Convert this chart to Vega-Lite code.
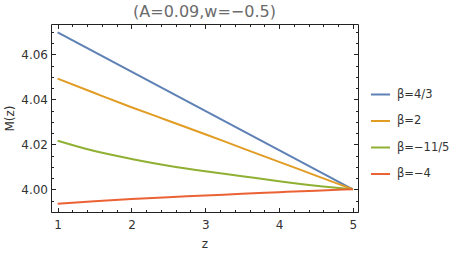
{
  "$schema": "https://vega.github.io/schema/vega-lite/v6.json",
  "width": 307,
  "height": 188,
  "autosize": "none",
  "padding": {"left": 51, "top": 24, "right": 93, "bottom": 42},
  "background": "white",
  "config": {
    "view": {"stroke": "#222", "strokeWidth": 1},
    "font": "DejaVu Sans",
    "axis": {"grid": false, "domain": false, "labelFont": "DejaVu Sans", "titleFont": "DejaVu Sans", "labelColor": "#333", "titleColor": "#333", "tickColor": "#222", "labelFontSize": 12, "titleFontSize": 12, "titleFontWeight": "normal"}
  },
  "title": {"text": "(A=0.09,w=−0.5)", "fontSize": 16, "fontWeight": "normal", "color": "#6b6b6b", "font": "DejaVu Sans", "anchor": "middle", "offset": 4},
  "data": {
    "values": [
      {"z": 1, "M": 4.0698, "beta": "β=4/3"},
      {"z": 5, "M": 4.0, "beta": "β=4/3"},
      {"z": 1, "M": 4.0492, "beta": "β=2"},
      {"z": 1.5, "M": 4.0428, "beta": "β=2"},
      {"z": 2, "M": 4.0365, "beta": "β=2"},
      {"z": 2.5, "M": 4.0305, "beta": "β=2"},
      {"z": 3, "M": 4.0245, "beta": "β=2"},
      {"z": 3.5, "M": 4.0183, "beta": "β=2"},
      {"z": 4, "M": 4.0122, "beta": "β=2"},
      {"z": 4.5, "M": 4.0061, "beta": "β=2"},
      {"z": 5, "M": 4.0, "beta": "β=2"},
      {"z": 1, "M": 4.0216, "beta": "β=−11/5"},
      {"z": 1.5, "M": 4.0170, "beta": "β=−11/5"},
      {"z": 2, "M": 4.0135, "beta": "β=−11/5"},
      {"z": 2.5, "M": 4.0105, "beta": "β=−11/5"},
      {"z": 3, "M": 4.0080, "beta": "β=−11/5"},
      {"z": 3.5, "M": 4.0058, "beta": "β=−11/5"},
      {"z": 4, "M": 4.0036, "beta": "β=−11/5"},
      {"z": 4.5, "M": 4.0016, "beta": "β=−11/5"},
      {"z": 5, "M": 4.0, "beta": "β=−11/5"},
      {"z": 1, "M": 3.9936, "beta": "β=−4"},
      {"z": 1.5, "M": 3.9947, "beta": "β=−4"},
      {"z": 2, "M": 3.9957, "beta": "β=−4"},
      {"z": 2.5, "M": 3.9965, "beta": "β=−4"},
      {"z": 3, "M": 3.9972, "beta": "β=−4"},
      {"z": 3.5, "M": 3.9980, "beta": "β=−4"},
      {"z": 4, "M": 3.9987, "beta": "β=−4"},
      {"z": 4.5, "M": 3.9994, "beta": "β=−4"},
      {"z": 5, "M": 4.0, "beta": "β=−4"}
    ]
  },
  "layer": [
    {
      "mark": {"type": "point", "opacity": 0},
      "encoding": {
        "x": {"field": "z", "type": "quantitative", "scale": {"domain": [0.91, 5.07], "nice": false, "zero": false},
          "axis": {"orient": "top", "values": [1,1.2,1.4,1.6,1.8,2,2.2,2.4,2.6,2.8,3,3.2,3.4,3.6,3.8,4,4.2,4.4,4.6,4.8,5], "tickSize": -2.5, "labels": false, "title": null}},
        "y": {"field": "M", "type": "quantitative", "scale": {"domain": [3.9899, 4.0735], "nice": false, "zero": false},
          "axis": {"orient": "right", "values": [3.99,3.995,4.0,4.005,4.01,4.015,4.02,4.025,4.03,4.035,4.04,4.045,4.05,4.055,4.06,4.065,4.07], "tickSize": -2.5, "labels": false, "title": null}}
      }
    },
    {
      "mark": {"type": "point", "opacity": 0},
      "encoding": {
        "x": {"field": "z", "type": "quantitative",
          "axis": {"orient": "top", "values": [1,2,3,4,5], "tickSize": -4.5, "labels": false, "title": null}},
        "y": {"field": "M", "type": "quantitative",
          "axis": {"orient": "right", "values": [4.0,4.02,4.04,4.06], "tickSize": -4.5, "labels": false, "title": null}}
      }
    },
    {
      "mark": {"type": "point", "opacity": 0},
      "encoding": {
        "x": {"field": "z", "type": "quantitative",
          "axis": {"orient": "bottom", "values": [1,1.2,1.4,1.6,1.8,2,2.2,2.4,2.6,2.8,3,3.2,3.4,3.6,3.8,4,4.2,4.4,4.6,4.8,5], "tickSize": -2.5, "labels": false, "title": null}},
        "y": {"field": "M", "type": "quantitative",
          "axis": {"orient": "left", "values": [3.99,3.995,4.0,4.005,4.01,4.015,4.02,4.025,4.03,4.035,4.04,4.045,4.05,4.055,4.06,4.065,4.07], "tickSize": -2.5, "labels": false, "title": null}}
      }
    },
    {
      "mark": {"type": "line", "strokeWidth": 2, "interpolate": "monotone"},
      "encoding": {
        "x": {"field": "z", "type": "quantitative",
          "axis": {"orient": "bottom", "values": [1,2,3,4,5], "tickSize": -4.5, "labelPadding": 12, "title": "z", "titlePadding": 8}},
        "y": {"field": "M", "type": "quantitative",
          "axis": {"orient": "left", "values": [4.0,4.02,4.04,4.06], "format": ".2f", "tickSize": -4.5, "labelPadding": 8, "title": "M(z)", "titlePadding": 4}},
        "color": {"field": "beta", "type": "nominal", "sort": ["β=4/3", "β=2", "β=−11/5", "β=−4"],
          "scale": {"domain": ["β=4/3", "β=2", "β=−11/5", "β=−4"], "range": ["#5E81B5", "#E19C24", "#8FB032", "#EB6235"]},
          "legend": {"title": null, "orient": "none", "legendX": 319, "legendY": 60, "symbolType": "stroke", "symbolSize": 361, "symbolStrokeWidth": 2, "labelFontSize": 11.5, "labelColor": "#333", "labelFont": "DejaVu Sans", "rowPadding": 10.5, "labelOffset": 6}}
      }
    }
  ],
  "resolve": {"axis": {"x": "independent", "y": "independent"}}
}
